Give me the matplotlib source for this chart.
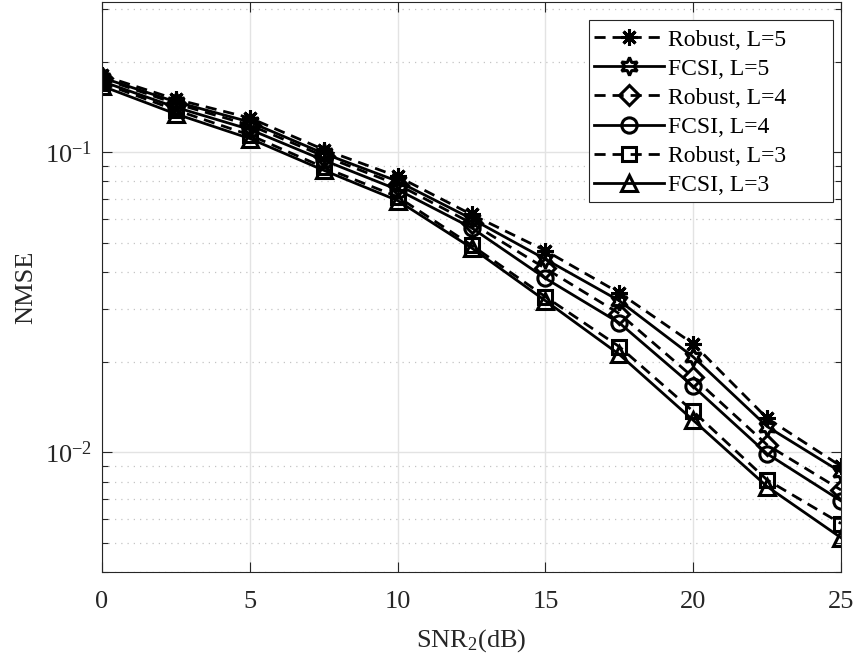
import numpy as np
import matplotlib
matplotlib.use("Agg")
import matplotlib.pyplot as plt
from matplotlib.patches import Rectangle
from matplotlib.ticker import FixedLocator, LogLocator, NullFormatter

plt.rcParams['font.family'] = ['Liberation Serif', 'DejaVu Serif']
plt.rcParams['mathtext.fontset'] = 'custom'
plt.rcParams['mathtext.rm'] = 'Liberation Serif'
plt.rcParams['mathtext.it'] = 'Liberation Serif:italic'

# SNR_2 in dB
snr = [0, 2.5, 5, 7.5, 10, 12.5, 15, 17.5, 20, 22.5, 25]

# NMSE curves
robust_l5 = [0.180, 0.150, 0.130, 0.102, 0.083, 0.062, 0.047, 0.034, 0.0230, 0.0130, 0.0090]
fcsi_l5 = [0.177, 0.147, 0.126, 0.099, 0.080, 0.060, 0.044, 0.032, 0.0208, 0.0122, 0.0086]
robust_l4 = [0.176, 0.145, 0.123, 0.097, 0.078, 0.058, 0.041, 0.029, 0.0178, 0.0106, 0.0075]
fcsi_l4 = [0.172, 0.141, 0.119, 0.094, 0.075, 0.056, 0.038, 0.027, 0.0166, 0.0099, 0.0069]
robust_l3 = [0.170, 0.138, 0.114, 0.089, 0.071, 0.049, 0.033, 0.0225, 0.0137, 0.0081, 0.0058]
fcsi_l3 = [0.166, 0.134, 0.111, 0.087, 0.069, 0.048, 0.032, 0.0212, 0.0128, 0.0077, 0.0052]

labels = ['Robust, L=5', 'FCSI, L=5', 'Robust, L=4', 'FCSI, L=4', 'Robust, L=3', 'FCSI, L=3']
series = [robust_l5, fcsi_l5, robust_l4, fcsi_l4, robust_l3, fcsi_l3]
markers = [(8, 2, 0), (6, 1, 0), 'D', 'o', 's', '^']
styles = ['--', '-', '--', '-', '--', '-']
sizes = [12, 13, 10, 11, 10, 12]

W, H = 856, 664
fig = plt.figure(figsize=(W / 100, H / 100), dpi=100)
ax = fig.add_axes([0.1192, 0.1386, 0.8633, 0.8584])

for vals, lab, mk, ls, ms in zip(series, labels, markers, styles, sizes):
    ax.plot(snr, vals, color='black', linestyle=ls, linewidth=2.0,
            marker=mk, markersize=ms, markerfacecolor='none',
            markeredgecolor='black', markeredgewidth=2.2,
            dashes=(4, 2.5) if ls == '--' else (None, None), label=lab)

ax.set_yscale('log')
ax.set_xlim(0, 25)
ax.set_ylim(0.004, 10 ** -0.5)
ax.xaxis.set_major_locator(FixedLocator([0, 5, 10, 15, 20, 25]))
ax.yaxis.set_major_locator(FixedLocator([0.01, 0.1]))
ax.set_yticklabels(['$10^{-2}$', '$10^{-1}$'])
ax.yaxis.set_minor_locator(LogLocator(base=10, subs=np.arange(2, 10)))
ax.yaxis.set_minor_formatter(NullFormatter())

ax.grid(True, which='major', color='#e3e3e3', linestyle='-', linewidth=1.0)
ax.grid(True, which='minor', axis='y', color='#c4c4c4', linestyle=(0, (1, 4)), linewidth=0.9)
ax.set_axisbelow(True)

ax.tick_params(which='both', direction='in', top=True, right=True,
               colors='#262626', labelsize=19, labelcolor='#262626')
ax.tick_params(which='major', length=7, width=0.8)
ax.tick_params(axis='x', which='major', pad=14)
ax.tick_params(axis='y', which='major', pad=7)
ax.tick_params(which='minor', length=4, width=0.8)
for sp in ax.spines.values():
    sp.set_color('#262626')
    sp.set_linewidth(0.8)

ax.set_xlabel('SNR$_2$(dB)', fontsize=19, color='#262626', labelpad=10)
ax.set_ylabel('NMSE', fontsize=19, color='#262626', labelpad=6)

# legend entries without frame; MATLAB-style box drawn separately (wider than contents)
leg = fig.legend(*ax.get_legend_handles_labels(), loc='upper left',
                 bbox_to_anchor=(594 / W, 1 - 29 / H), fontsize=17,
                 handlelength=2.95, handletextpad=0.2, labelspacing=0.32,
                 borderpad=0.0, borderaxespad=0.0, frameon=False)
fig.add_artist(Rectangle((589 / W, 1 - 202 / H), 244 / W, 182 / H,
                         transform=fig.transFigure, facecolor='white',
                         edgecolor='#262626', linewidth=0.8, zorder=2.5))
leg.set_zorder(3)

fig.savefig('out.png', dpi=100)
